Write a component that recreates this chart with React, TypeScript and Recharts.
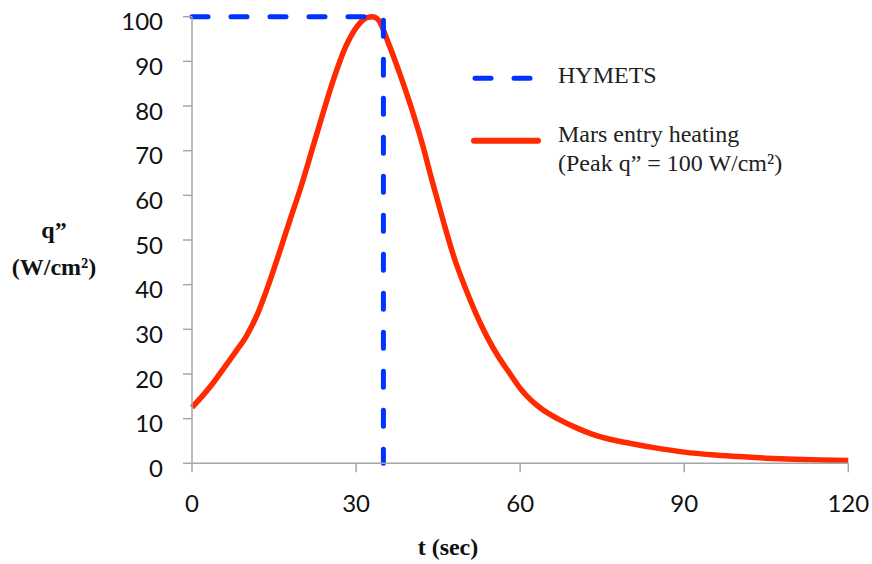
import { LineChart, Line, XAxis, YAxis, Legend } from 'recharts';

// Mars entry heat pulse (t in sec, q in W/cm²)
const marsT = [0, 2, 4, 6, 8, 10, 12, 14, 16, 18, 20, 22, 24, 26, 28, 30, 32, 33, 34, 36, 38, 40, 42, 44, 46, 48, 50, 52, 54, 56, 58, 60, 62, 64, 67, 70, 73, 76, 80, 85, 90, 95, 100, 105, 110, 115, 120];
const marsQ = [12.5, 15.2, 18.2, 21.6, 25.0, 28.6, 33.5, 40.0, 47.3, 54.8, 62.2, 70.4, 78.6, 86.4, 93.0, 97.5, 99.8, 100, 99.4, 93.8, 87.2, 80.0, 72.0, 62.8, 54.0, 45.8, 39.2, 33.3, 28.2, 23.9, 20.3, 16.8, 14.1, 12.1, 9.9, 8.1, 6.6, 5.5, 4.5, 3.4, 2.5, 1.9, 1.5, 1.15, 0.9, 0.72, 0.6];

// HYMETS test profile: step held at peak then cut off
const hymetsT = [0, 35, 35];
const hymetsQ = [100, 100, 0];

const xTicks = [0, 30, 60, 90, 120];
const yTicks = [0, 10, 20, 30, 40, 50, 60, 70, 80, 90, 100];

const marsData = marsT.map((t, i) => ({ t, q: marsQ[i] }));
const hymetsData = hymetsT.map((t, i) => ({ t, q: hymetsQ[i] }));

const RED = '#ff2a00';
const BLUE = '#0033ff';
const AXIS = '#a6a6a6';
const serif = '"Liberation Serif", "Times New Roman", serif';

function YTitle(props: any) {
  const vb = props.viewBox || {};
  const cx = 54;
  const cy = vb.y + vb.height / 2;
  return (
    <g fontFamily={serif} fontWeight="bold" fontSize={24} fill="#111" textAnchor="middle">
      <text x={cx} y={cy - 2}>q”</text>
      <text x={cx} y={cy + 35}>(W/cm²)</text>
    </g>
  );
}

function XTitle(props: any) {
  const vb = props.viewBox || {};
  return (
    <text x={vb.x + vb.width * 0.39} y={555} fontFamily={serif} fontWeight="bold" fontSize={24} fill="#111" textAnchor="middle">
      t (sec)
    </text>
  );
}

function LegendBox() {
  return (
    <svg width={340} height={135} style={{ display: 'block' }}>
      <line x1={15} x2={71} y1={28.3} y2={28.3} stroke={BLUE} strokeWidth={5} strokeDasharray="16 23" strokeLinecap="round" />
      <text x={98} y={32.7} fontFamily={serif} fontSize={24} fill="#222">HYMETS</text>
      <line x1={14} x2={78} y1={90.7} y2={90.7} stroke={RED} strokeWidth={6} strokeLinecap="round" />
      <text x={98} y={91.7} fontFamily={serif} fontSize={24} fill="#222">Mars entry heating</text>
      <text x={98} y={120.7} fontFamily={serif} fontSize={24} fill="#222">(Peak q” = 100 W/cm²)</text>
    </svg>
  );
}

export default function App() {
  const tickStyle = { fill: '#111', fontSize: 24, fontFamily: 'Lato, "Open Sans", sans-serif' };
  return (
    <div style={{ position: 'absolute', left: 0, top: 0, width: 872, height: 564, background: '#fff' }}>
      <LineChart width={872} height={564} margin={{ top: 16.7, right: 23.7, left: 0, bottom: 40.7 }}>
        <XAxis
          type="number"
          dataKey="t"
          domain={[0, 120]}
          ticks={xTicks}
          allowDecimals={false}
          height={60}
          stroke={AXIS}
          strokeWidth={1.5}
          tickSize={9}
          tickMargin={23}
          tick={tickStyle}
          label={<XTitle />}
        />
        <YAxis
          type="number"
          domain={[0, 100]}
          ticks={yTicks}
          width={192}
          stroke={AXIS}
          strokeWidth={1.5}
          tickSize={9}
          tickMargin={20}
          tick={{ ...tickStyle, dy: 5 }}
          label={<YTitle />}
        />
        <Legend
          layout="horizontal"
          verticalAlign="middle"
          align="center"
          wrapperStyle={{ left: 460, top: 50, width: 340, height: 135 }}
          content={() => <LegendBox />}
        />
        <Line
          data={marsData}
          dataKey="q"
          type="monotone"
          stroke={RED}
          strokeWidth={5.5}
          dot={false}
          isAnimationActive={false}
        />
        <Line
          data={hymetsData}
          dataKey="q"
          type="linear"
          stroke={BLUE}
          strokeWidth={5}
          strokeDasharray="16 23"
          strokeLinecap="round"
          dot={false}
          isAnimationActive={false}
        />
      </LineChart>
    </div>
  );
}
